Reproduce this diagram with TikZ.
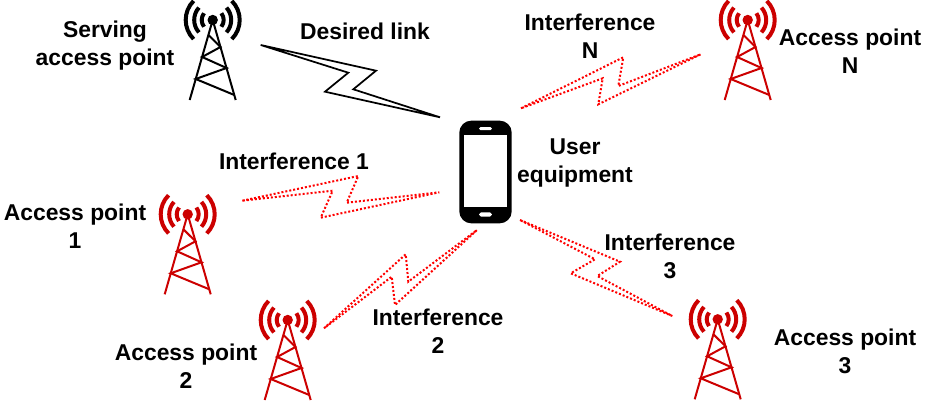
\documentclass[tikz,border=0pt]{standalone}
\usepackage{fontspec}
\setmainfont{Liberation Sans}
\definecolor{towerred}{HTML}{CC0000}
\definecolor{boltred}{HTML}{FF0000}
\tikzset{
  x=0.75pt, y=-0.75pt,
  lbl/.style={font=\fontsize{17.15}{21}\selectfont\bfseries, align=center, inner sep=0pt, text=black},
  desiredbolt/.style={draw=black, line width=1.3pt, line join=miter, fill=white},
  dotbolt/.style={draw=boltred, line width=1.5pt, dash pattern=on 1.5pt off 1.5pt},
  tower/.pic={
    \begin{scope}[x=0.75pt,y=0.75pt,draw=#1,fill=#1]
      \draw[line width=1.5pt] (-23,-80) -- (0,0) -- (23,-80);
      \draw[line width=1.5pt] (-4.3,-15) -- (7.8,-27) -- (-10.6,-37) -- (13.8,-48) -- (-17,-59) -- (21.6,-75);
      \fill (0,0) circle[radius=5.2];
      \foreach \r/\a in {11/38,18.5/42,27/45}{
        \draw[line width=3pt] (\a:\r) arc[start angle=\a,end angle=-\a,radius=\r];
        \draw[line width=3pt] (180-\a:\r) arc[start angle=180-\a,end angle=180+\a,radius=\r];
      }
    \end{scope}
  },
  tower/.default=black
}
\newcommand{\bolt}[7]{%
  \draw[#1] #2 -- #3 -- #4 -- #5 -- #6 -- #7 -- cycle;}
\begin{document}
\begin{tikzpicture}
\useasboundingbox (0,0) rectangle (930,402);

% towers
\pic (apS) at (212.7,20) {tower=black};
\pic (apN) at (747.7,20) {tower=towerred};
\pic (apA) at (187.7,214.3) {tower=towerred};
\pic (apB) at (287.7,320) {tower=towerred};
\pic (apC) at (717.7,319.3) {tower=towerred};

% phone
\node[fill=black, rounded corners=9pt, minimum width=39.3pt, minimum height=77pt, inner sep=0pt] (ue) at (485.5,172) {};
\node[fill=white, minimum width=32pt, minimum height=54.2pt, inner sep=0pt] (screen) at (485.5,171.2) {};
\node[fill=white, rounded corners=1pt, minimum width=9.5pt, minimum height=2.2pt, inner sep=0pt] (speaker) at (485.5,128.7) {};
\node[fill=white, rounded corners=1.4pt, minimum width=9.5pt, minimum height=3.2pt, inner sep=0pt] (homekey) at (485.5,214.5) {};

% bolts
\bolt{desiredbolt}{(260.7,45)}{(376,70.7)}{(353.3,89.3)}{(440,117.3)}{(325,91.7)}{(348.3,72.7)}
\bolt{dotbolt}{(521,108.3)}{(623.3,57.3)}{(618.3,86)}{(700.7,54.3)}{(598.3,104.3)}{(602.7,78.3)}
\bolt{dotbolt}{(242.3,200.7)}{(358.3,176)}{(346.7,202.7)}{(439.3,192.3)}{(320.7,217.7)}{(332.7,190.7)}
\bolt{dotbolt}{(324,328.3)}{(405.7,254.3)}{(408.3,281.7)}{(477,230)}{(395,305)}{(391.7,276.7)}
\bolt{dotbolt}{(520,220)}{(620,261.7)}{(597.3,276)}{(672.3,316)}{(570.7,273.3)}{(595,259.3)}

% labels
\node[lbl] (t1) at (105,46) {Serving\\access point};
\node[lbl] (t2) at (365,31) {Desired link};
\node[lbl] (t3) at (590,36) {Interference\\N};
\node[lbl] (t4) at (850,51) {Access point\\N};
\node[lbl] (t5) at (575,163) {User\\equipment};
\node[lbl] (t6) at (294,161) {Interference 1};
\node[lbl] (t7) at (75,226) {Access point\\1};
\node[lbl] (t8) at (186,366) {Access point\\2};
\node[lbl] (t9) at (438,331) {Interference\\2};
\node[lbl] (t10) at (670,256) {Interference\\3};
\node[lbl] (t11) at (845,351) {Access point\\3};
\end{tikzpicture}
\end{document}
